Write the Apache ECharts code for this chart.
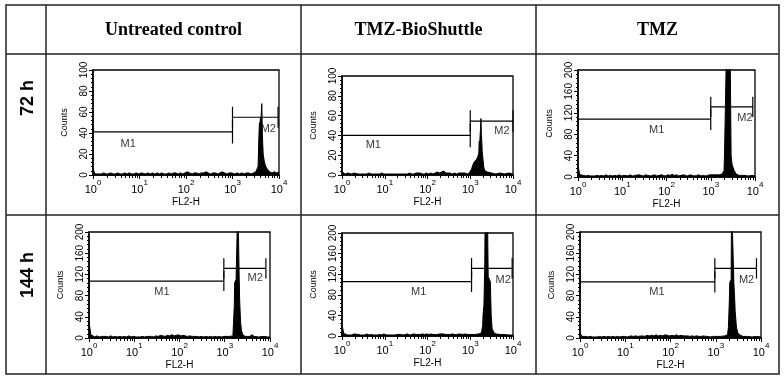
<!DOCTYPE html>
<html>
<head>
<meta charset="utf-8">
<script src="https://cdn.jsdelivr.net/npm/echarts@6/dist/echarts.min.js"></script>
<style>
  html, body { margin: 0; padding: 0; background: #fff; }
  #main { width: 784px; height: 380px; }
</style>
</head>
<body>
<div id="main"></div>
<script>
// column / row headings of the table
const treatments = ['Untreated control', 'TMZ-BioShuttle', 'TMZ'];
const timepoints = ['72 h', '144 h'];

// FL2-H channels used for the low (background) part of every histogram
const lowChannels = [1, 1.1, 1.2, 1.35, 1.5, 1.7, 1.9, 2.1, 2.4, 2.7,
  3, 3.4, 3.8, 4.3, 4.8, 5.4, 6, 6.8, 7.6, 8.5,
  9.5, 11, 12, 13.5, 15, 17, 19, 21, 24, 27,
  30, 34, 38, 43, 48, 54, 60, 68, 76, 85,
  95, 107, 120, 135, 150, 170, 190, 210, 240, 270,
  300, 340, 380, 430, 480, 540, 600, 680, 760, 850, 950];

// counts at lowChannels
const low72Control = [6,1,2,1,1,2,1,1,2,1, 1,2,1,1,2,1,2,1,1,2, 1,2,1,1,2,1,2,1,2,1, 2,1,1,2,1,2,2,1,2,1, 2,3,2,1,2,2,1,2,2,3, 2,1,2,2,1,2,3,2,1,2, 2];
const low72Shuttle = [3,1,1,2,1,1,2,1,1,1, 2,1,1,2,1,1,2,1,1,2, 1,1,2,1,3,1,1,2,1,1, 2,1,2,1,1,2,1,2,1,1, 2,1,2,1,2,3,2,1,4,2, 1,2,1,2,1,2,1,2,2,1, 2];
const low72Tmz = [20,4,2,3,2,3,2,4,2,3, 2,3,2,4,2,3,2,3,2,4, 2,3,3,2,4,2,3,2,4,3, 2,4,3,2,3,4,2,3,4,3, 2,4,3,5,3,4,2,3,4,3, 2,4,3,2,3,4,2,3,2,3, 4];
const low144Control = [30,6,3,2,4,2,3,2,3,2, 4,2,3,2,3,2,3,2,4,2, 3,2,3,2,3,2,3,4,3,2, 4,3,5,4,3,5,4,6,4,5, 6,4,5,4,3,4,3,2,3,2, 3,2,3,2,3,2,3,2,3,2, 3];
const low144Shuttle = [22,5,3,2,3,2,4,2,3,2, 3,2,4,2,3,2,3,2,3,2, 4,2,3,2,3,2,3,2,3,2, 3,4,2,3,4,3,4,3,4,3, 4,3,4,3,5,3,4,3,4,3, 4,3,4,3,3,4,3,3,4,3, 3];
const low144Tmz = [10,3,2,3,2,3,2,3,2,3, 2,3,2,3,2,3,2,3,2,3, 3,2,3,4,3,4,3,5,4,3, 5,4,5,4,6,4,5,4,6,5, 4,5,4,6,4,5,4,3,4,3, 4,3,4,3,3,4,3,3,2,3, 3];

// [FL2-H, counts] from 10^3 up to 10^4
const peak72Control = [[1000,2],[1122,1],[1259,2],[1413,1],[1585,2],[1778,1],[1995,2],[2239,2],[2512,1],[2818,2],
  [3162,3],[3388,4],[3548,8],[3715,40],[3802,50],[3890,45],[3981,55],[4074,48],[4169,60],[4266,68],
  [4365,42],[4467,30],[4571,20],[4786,14],[5012,10],[5370,7],[5754,5],[6310,3],[7079,2],[7943,3],[8913,2],[10000,3]];
const peak72Shuttle = [[1000,3],[1072,6],[1148,10],[1230,13],[1318,14],[1413,16],[1514,19],[1585,22],[1622,34],[1660,30],
  [1698,40],[1738,46],[1778,57],[1820,42],[1862,34],[1905,24],[1995,15],[2089,7],[2239,4],[2512,3],
  [3162,2],[3981,1],[5012,2],[6310,1],[7943,2],[10000,1]];
const peak72Tmz = [[1000,3],[1259,4],[1585,4],[1820,6],[1995,12],[2042,40],[2138,126],[2239,220],[2344,260],[2512,280],
  [2630,240],[2754,220],[2818,130],[2884,40],[3020,24],[3162,19],[3388,12],[3548,10],[3802,5],[4467,3],
  [5623,3],[7079,2],[8913,3],[10000,2]];
const peak144Control = [[1000,3],[1259,3],[1514,4],[1585,5],[1622,60],[1660,105],[1778,110],[1905,108],[1950,260],[2070,260],
  [2089,110],[2138,70],[2239,30],[2344,14],[2512,6],[2818,3],[3548,3],[3981,6],[4467,3],[5623,2],
  [7079,3],[8913,2],[10000,2]];
const peak144Shuttle = [[1000,3],[1259,3],[1585,4],[1820,6],[1950,20],[1995,42],[2089,60],[2188,140],[2239,260],[2512,260],
  [2630,115],[2818,110],[2951,105],[3090,40],[3236,15],[3548,7],[3981,4],[5012,3],[6310,3],[7943,2],[10000,2]];
const peak144Tmz = [[1000,3],[1259,3],[1585,4],[1820,6],[1905,20],[1995,70],[2042,105],[2188,110],[2239,260],[2455,260],
  [2512,105],[2630,70],[2692,50],[2818,28],[2884,19],[3090,9],[3548,5],[3981,3],[5012,3],[6310,2],[7943,3],[10000,2]];

// marker gates: [name, from, to, level, half tick height]
const gates72Control = [['M1', 1, 1000, 41, 11], ['M2', 1000, 9550, 55, 10]];
const gates72Shuttle = [['M1', 1, 1000, 40, 12], ['M2', 1000, 10000, 54.5, 11]];
const gates72Tmz = [['M1', 1, 1000, 108, 20], ['M2', 1000, 8913, 131, 19]];
const gates144Control = [['M1', 1, 955, 107.5, 19], ['M2', 955, 8128, 131.5, 19]];
const gates144Shuttle = [['M1', 1, 1072, 105.5, 20], ['M2', 1072, 9550, 131.5, 20]];
const gates144Tmz = [['M1', 1, 955, 106, 20], ['M2', 955, 7943, 131.5, 19]];
// where the gate names sit: [FL2-H, counts, text]
const gateLabels72Control = [[5.7, 30, 'M1'], [5900, 44, 'M2']];
const gateLabels72Shuttle = [[5.4, 30, 'M1'], [5500, 44, 'M2']];
const gateLabels72Tmz = [[60, 88, 'M1'], [5900, 110, 'M2']];
const gateLabels144Control = [[41, 87, 'M1'], [4700, 113, 'M2']];
const gateLabels144Shuttle = [[62, 86, 'M1'], [5900, 109, 'M2']];
const gateLabels144Tmz = [[50, 87, 'M1'], [4800, 109, 'M2']];

const countMax = [100, 100, 200, 200, 200, 200];
const countStep = [20, 20, 40, 40, 40, 40];

const panels = [
    { low: low72Control, peak: peak72Control, gates: gates72Control, labels: gateLabels72Control },
    { low: low72Shuttle, peak: peak72Shuttle, gates: gates72Shuttle, labels: gateLabels72Shuttle },
    { low: low72Tmz, peak: peak72Tmz, gates: gates72Tmz, labels: gateLabels72Tmz },
    { low: low144Control, peak: peak144Control, gates: gates144Control, labels: gateLabels144Control },
    { low: low144Shuttle, peak: peak144Shuttle, gates: gates144Shuttle, labels: gateLabels144Shuttle },
    { low: low144Tmz, peak: peak144Tmz, gates: gates144Tmz, labels: gateLabels144Tmz }
];

// plot boxes [left, top, width, height]
const gridRects = [[93, 70, 186, 105], [342, 76, 171, 99], [578, 70, 177, 107],
    [89, 232, 181, 106], [342, 233, 171, 103], [580, 232, 181, 106]];

const sans = '"Liberation Sans", Arial, sans-serif';
const chart = echarts.init(document.getElementById('main'));

var grids = [], xAxes = [], yAxes = [], series = [];
panels.forEach(function (p, i) {
    var r = gridRects[i];
    grids.push({
        left: r[0], top: r[1], width: r[2], height: r[3],
        show: true, borderColor: '#000', borderWidth: 1.3, backgroundColor: '#fff'
    });
    xAxes.push({
        gridIndex: i, type: 'log', logBase: 10, min: 1, max: 10000,
        name: 'FL2-H', nameLocation: 'middle', nameGap: 22,
        nameTextStyle: { fontFamily: sans, fontSize: 10, color: '#000' },
        axisLine: { lineStyle: { color: '#000', width: 1.5 } },
        axisTick: { length: 4, lineStyle: { color: '#000' } },
        minorTick: { show: true, splitNumber: 9, length: 3, lineStyle: { color: '#000' } },
        splitLine: { show: false },
        axisLabel: {
            margin: 4,
            formatter: function (v) {
                return '{b|10}{s|' + Math.round(Math.log10(v)) + '}';
            },
            rich: {
                b: { fontFamily: sans, fontSize: 11, color: '#000', lineHeight: 16, verticalAlign: 'bottom' },
                s: { fontFamily: sans, fontSize: 8, color: '#000', lineHeight: 16, verticalAlign: 'top' }
            }
        }
    });
    yAxes.push({
        gridIndex: i, type: 'value', min: 0, max: countMax[i], interval: countStep[i],
        name: 'Counts', nameLocation: 'middle', nameGap: 24,
        nameTextStyle: { fontFamily: sans, fontSize: 9, color: '#000' },
        axisLine: { show: true, lineStyle: { color: '#000', width: 1.5 } },
        axisTick: { show: true, length: 4, lineStyle: { color: '#000' } },
        minorTick: { show: true, splitNumber: 5, length: 2, lineStyle: { color: '#000' } },
        splitLine: { show: false },
        axisLabel: { rotate: 90, margin: 4, fontFamily: sans, fontSize: 10, color: '#000' }
    });

    var hist = p.low.map(function (c, k) { return [lowChannels[k], c]; }).concat(p.peak);
    series.push({
        type: 'line', xAxisIndex: i, yAxisIndex: i, data: hist, z: 3,
        showSymbol: false, symbol: 'none',
        lineStyle: { color: '#000', width: 1 },
        areaStyle: { color: '#000', opacity: 1 }
    });
    p.gates.forEach(function (g) {
        series.push({
            type: 'line', xAxisIndex: i, yAxisIndex: i, z: 4, symbol: 'none',
            lineStyle: { color: '#000', width: 1.2 },
            data: [[g[1], g[3] + g[4]], [g[1], g[3] - g[4]], [g[1], g[3]],
                   [g[2], g[3]], [g[2], g[3] + g[4]], [g[2], g[3] - g[4]]]
        });
    });
    series.push({
        type: 'scatter', xAxisIndex: i, yAxisIndex: i, z: 2,
        symbolSize: 2, itemStyle: { color: 'rgba(255,255,255,0)' },
        data: p.labels,
        label: {
            show: true, position: 'inside', fontFamily: sans, fontSize: 11, color: '#000',
            formatter: function (q) { return q.value[2]; }
        },
        labelLayout: { hideOverlap: false }
    });
});

// table frame and headings
var lineStyle = { stroke: '#222', lineWidth: 1.5 };
var graphic = [
    { type: 'rect', shape: { x: 6, y: 5, width: 773, height: 369 }, style: { fill: 'none', stroke: '#222', lineWidth: 1.5 }, z: 10 },
    { type: 'line', shape: { x1: 46, y1: 5, x2: 46, y2: 374 }, style: lineStyle, z: 10 },
    { type: 'line', shape: { x1: 301, y1: 5, x2: 301, y2: 374 }, style: lineStyle, z: 10 },
    { type: 'line', shape: { x1: 536, y1: 5, x2: 536, y2: 374 }, style: lineStyle, z: 10 },
    { type: 'line', shape: { x1: 6, y1: 54, x2: 779, y2: 54 }, style: lineStyle, z: 10 },
    { type: 'line', shape: { x1: 6, y1: 215, x2: 779, y2: 215 }, style: lineStyle, z: 10 }
];
var headX = [173.5, 418.5, 657.5];
treatments.forEach(function (t, k) {
    graphic.push({
        type: 'text', x: headX[k], y: 30, z: 10,
        style: { text: t, fill: '#000', font: 'bold 18px "Liberation Serif", "Times New Roman", serif', align: 'center', verticalAlign: 'middle' }
    });
});
var rowY = [98, 275];
timepoints.forEach(function (t, k) {
    graphic.push({
        type: 'text', x: 28, y: rowY[k], rotation: Math.PI / 2, z: 10,
        style: { text: t, fill: '#000', font: 'bold 18px ' + sans, align: 'center', verticalAlign: 'middle' }
    });
});

chart.setOption({
    animation: false,
    backgroundColor: '#fff',
    grid: grids,
    xAxis: xAxes,
    yAxis: yAxes,
    series: series,
    graphic: graphic
});
</script>
</body>
</html>
